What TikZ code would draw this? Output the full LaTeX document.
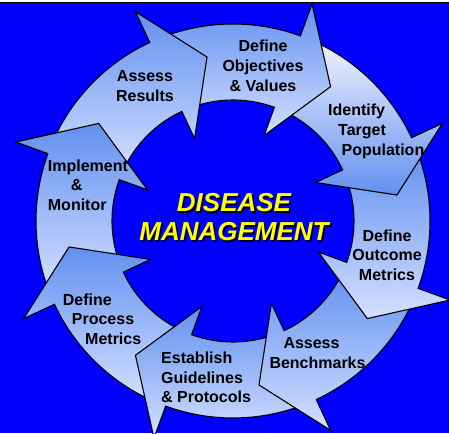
\documentclass[tikz,border=0pt]{standalone}
\usepackage{fontspec}
\setmainfont{Liberation Sans}
\definecolor{bgblue}{RGB}{0,0,255}
\definecolor{arrowdark}{RGB}{98,144,240}
\definecolor{arrowlight}{RGB}{212,224,255}
\definecolor{arrowpale}{RGB}{238,242,255}
\definecolor{titleyellow}{RGB}{255,255,0}
\newcommand{\rOut}{197}
\newcommand{\rIn}{121}
% ring segment with its head: tip angle #1, tail angle #2
\newcommand{\cyclearrow}[2]{(#2:\rOut) arc[start angle=#2, end angle={#1+16}, radius=\rOut]
  -- ({#1+16}:231) -- (#1:166) -- ({#1+16}:91) -- ({#1+16}:\rIn)
  arc[start angle={#1+16}, end angle=#2, radius=\rIn] -- cycle}

\tikzset{
  seg/.style={draw=black, line width=1.1pt, top color=arrowdark, bottom color=arrowlight},
  segpale/.style={seg, top color=arrowpale, bottom color=arrowdark},
  stage/.style={inner sep=0pt, font=\bfseries\fontsize{16}{19.7}\selectfont},
  headline/.style={inner sep=0pt, align=center, font=\bfseries\itshape\fontsize{26}{29}\selectfont}
}

\begin{document}
\begin{tikzpicture}[x=1pt,y=1pt]
  \useasboundingbox (0,0) rectangle (449,433);
  \fill[bgblue] (0,0) rectangle (449,429.7);
  \draw[line width=1.6pt] (0,430.5) -- (449,430.5);

  \begin{scope}
    \clip (0,0) rectangle (449,429.7);
    \begin{scope}[shift={(233,212)}]
      % drawn backwards so every head lies on the next tail
      \foreach \k/\sty in {7/seg,6/seg,5/seg,4/seg,3/seg,2/segpale,1/seg,0/seg}{
        \pgfmathsetmacro{\tip}{99-45*\k}
        \pgfmathsetmacro{\tail}{\tip+57}
        \path[\sty] \cyclearrow{\tip}{\tail};
      }
      % put the last head back over the first tail
      \begin{scope}
        \clip (0,0) -- (-226:300) arc[start angle=-226, end angle=-190, radius=300] -- cycle;
        \path[seg] \cyclearrow{-216}{-159};
      \end{scope}
    \end{scope}
  \end{scope}

  \node[stage, align=center, anchor=north] (results) at (145,362.3) {Assess\\Results};
  \node[stage, align=center, anchor=north] (objectives) at (263,393) {Define\\Objectives\\\& Values};
  \node[stage, align=left, anchor=north west] (target) at (328,329) {Identify\\\hspace*{10pt}Target\\\hspace*{13.4pt}Population};
  \node[stage, align=center, anchor=north] (outcome) at (387,203.7) {Define\\Outcome\\Metrics};
  \node[stage, align=left, anchor=north west] (benchmarks) at (269.3,95.7) {\hspace*{14pt}Assess\\Benchmarks};
  \node[stage, align=left, anchor=north west] (guidelines) at (161,81.3) {Establish\\Guidelines\\\& Protocols};
  \node[stage, align=left, anchor=north west] (process) at (62.7,139.7) {Define\\\hspace*{9pt}Process\\\hspace*{22.3pt}Metrics};
  \node[stage, align=left, anchor=north west] (monitor) at (47.7,273.7) {Implement\\\hspace*{23pt}\&\\Monitor};

  \node[headline, anchor=north, text=black] (title shadow) at (235.5,238.2) {DISEASE\\MANAGEMENT};
  \node[headline, anchor=north, text=titleyellow] (title) at (234,239.7) {DISEASE\\MANAGEMENT};
\end{tikzpicture}
\end{document}
